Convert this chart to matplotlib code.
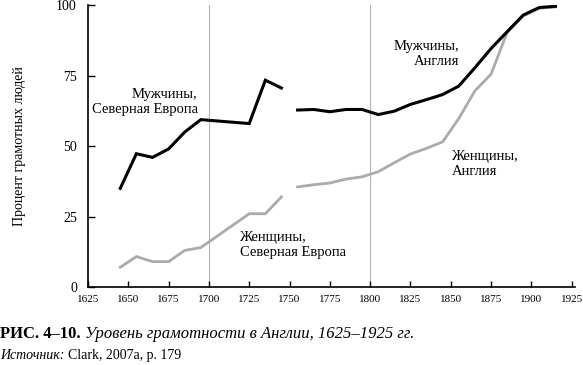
import matplotlib
matplotlib.use('Agg')
import matplotlib.pyplot as plt

# Северная Европа
years_ne = [1645, 1655, 1665, 1675, 1685, 1695, 1725, 1735, 1745]
men_ne = [35, 47.3, 46, 49, 55, 59.4, 58, 73.4, 70.6]
women_ne = [7, 10.8, 9, 9, 13, 14, 26, 26, 32]

# Англия
years_en = [1755, 1765, 1775, 1785, 1795, 1805, 1815, 1825, 1835, 1845,
            1855, 1865, 1875, 1885, 1895, 1905, 1915]
men_en = [62.8, 63, 62.2, 63, 63, 61.2, 62.4, 64.8, 66.5, 68.3,
          71.3, 77.8, 84.6, 90.6, 96.5, 99.2, 99.6]
women_en = [35.5, 36.3, 36.9, 38.3, 39.1, 40.9, 44.1, 47.2, 49.2, 51.5,
            59.8, 69.6, 75.5, 90.3, 96.2, 98.9, 99.4]

xticks = list(range(1625, 1926, 25))
yticks = [0, 25, 50, 75, 100]

plt.rcParams['font.family'] = ['Liberation Serif', 'DejaVu Serif']

fig = plt.figure(figsize=(5.83, 3.65), dpi=100)
ax = fig.add_axes([0.151, 0.2137, 0.835, 0.772])

grey = '#ababab'
for x in (1700, 1800):
    ax.plot([x, x], [0, 100], color='#b5b5b5', lw=0.8, zorder=1)

ax.plot(years_ne, women_ne, color=grey, lw=2.0, solid_joinstyle='miter', zorder=2)
ax.plot(years_en, women_en, color=grey, lw=2.0, solid_joinstyle='miter', zorder=2)
ax.plot(years_ne, men_ne, color='black', lw=2.2, solid_joinstyle='miter', zorder=3)
ax.plot(years_en, men_en, color='black', lw=2.2, solid_joinstyle='miter', zorder=3)

ax.set_xlim(1625, 1927)
ax.set_ylim(0, 100)
ax.set_xticks(xticks)
ax.set_yticks(yticks)
ax.tick_params(axis='x', direction='in', length=4, width=1, labelsize=8, pad=6)
ax.tick_params(axis='y', direction='in', length=5, width=1, labelsize=10, pad=8)
for s in ('top', 'right'):
    ax.spines[s].set_visible(False)
for s in ('left', 'bottom'):
    ax.spines[s].set_linewidth(1.2)
ax.spines['bottom'].set_bounds(1625, 1927)

ax.set_ylabel('Процент грамотных людей', fontsize=10, labelpad=22)

ax.text(1693, 65.6, 'Мужчины,\nСеверная Европа', ha='right', va='center',
        multialignment='right', fontsize=10.5, linespacing=1.2)
ax.text(1719, 15, 'Женщины,\nСеверная Европа', ha='left', va='center',
        fontsize=10.5, linespacing=1.2)
ax.text(1855, 82.8, 'Мужчины,\nАнглия', ha='right', va='center',
        multialignment='right', fontsize=10.5, linespacing=1.2)
ax.text(1850.5, 43.5, 'Женщины,\nАнглия', ha='left', va='center',
        fontsize=10.5, linespacing=1.2)

# подпись под рисунком
renderer = fig.canvas.get_renderer()


def put_parts(x, y, parts):
    for txt, kw in parts:
        t = fig.text(x, y, txt, va='baseline', **kw)
        bb = t.get_window_extent(renderer=renderer)
        x = bb.x1 / fig.bbox.width


put_parts(0.0, 0.073, [
    ('РИС. 4–10. ', dict(fontsize=12, weight='bold')),
    ('Уровень грамотности в Англии, 1625–1925 гг.', dict(fontsize=12, style='italic')),
])
put_parts(0.0, 0.017, [
    ('Источник: ', dict(fontsize=10, style='italic')),
    ('Clark, 2007a, p. 179', dict(fontsize=10)),
])

fig.savefig('out.png', dpi=100)
